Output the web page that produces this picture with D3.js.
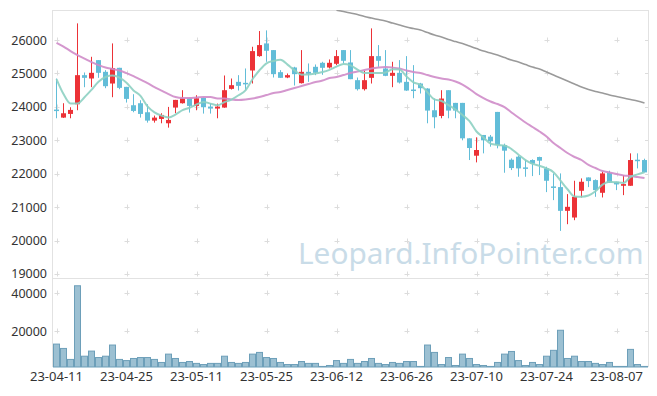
<!DOCTYPE html>
<html>
<head>
<meta charset="utf-8">
<script src="https://cdn.jsdelivr.net/npm/d3@7/dist/d3.min.js"></script>
<style>
  html, body { margin: 0; padding: 0; background: #ffffff; }
  svg { display: block; }
  text { font-family: "Noto Sans", "DejaVu Sans", sans-serif; }
</style>
</head>
<body>
<svg id="chart" width="657" height="396"></svg>
<script>
// ---------------- data ----------------
const dates = ["23-04-11","23-04-12","23-04-13","23-04-14","23-04-17","23-04-18","23-04-19","23-04-20","23-04-21","23-04-24",
  "23-04-25","23-04-26","23-04-27","23-04-28","23-05-02","23-05-03","23-05-04","23-05-08","23-05-09","23-05-10",
  "23-05-11","23-05-12","23-05-15","23-05-16","23-05-17","23-05-18","23-05-19","23-05-22","23-05-23","23-05-24",
  "23-05-25","23-05-26","23-05-30","23-05-31","23-06-01","23-06-02","23-06-05","23-06-07","23-06-08","23-06-09",
  "23-06-12","23-06-13","23-06-14","23-06-15","23-06-16","23-06-19","23-06-20","23-06-21","23-06-22","23-06-23",
  "23-06-26","23-06-27","23-06-28","23-06-29","23-06-30","23-07-03","23-07-04","23-07-05","23-07-06","23-07-07",
  "23-07-10","23-07-11","23-07-12","23-07-13","23-07-14","23-07-17","23-07-18","23-07-19","23-07-20","23-07-21",
  "23-07-24","23-07-25","23-07-26","23-07-27","23-07-28","23-07-31","23-08-01","23-08-02","23-08-03","23-08-04",
  "23-08-07","23-08-08","23-08-09","23-08-10","23-08-11"];

const openP = [23920,23680,23790,24080,24950,24850,25400,25050,24700,25170,
  24600,24050,24110,23840,23590,23640,23510,23980,24110,24260,
  24030,24270,24010,23950,23980,24540,24750,24720,25090,25520,
  25900,25700,25040,24880,25180,24710,25050,25200,25320,25180,
  25290,25700,25330,24800,24530,24870,25520,25150,24930,25020,
  24750,24520,24700,24550,23900,23730,24500,24120,24120,23060,
  22540,23160,23110,23850,22860,22420,22510,22190,22410,22500,
  22160,21620,21600,20890,20690,21490,21890,21810,21430,22030,
  21760,21640,21640,22420,22410];
const highP = [24850,24110,23990,26500,25030,25500,25400,25100,25900,25170,
  24600,24380,24200,24080,23740,23810,24000,24210,24500,24280,
  24350,24280,24110,24100,24940,24850,24950,25150,25800,26270,
  26290,25700,25100,25000,25200,25700,25300,25270,25350,25420,
  25700,25700,25700,24880,25080,26350,25850,25700,25350,25400,
  25520,25250,24720,24560,24250,24500,24500,24120,24120,23060,
  23090,23160,23160,23850,22900,22460,22540,22410,22430,22510,
  22210,22010,22010,21390,21790,21860,21890,21830,22060,22090,
  21760,21960,22610,22610,22450];
const lowP = [23660,23670,23660,23900,24590,24590,24870,24560,24290,24530,
  24130,23840,23680,23530,23530,23510,23380,23810,24100,23830,
  23900,23800,23800,23660,23975,24520,24490,24500,24700,25500,
  25350,24880,24870,24860,24640,24700,24750,24950,24960,25150,
  25250,25300,24830,24490,24490,24700,25200,24920,24590,24700,
  24480,24260,24400,23510,23360,23660,23660,23660,23000,22410,
  22340,22610,22810,22760,22030,22110,21910,21910,21930,21960,
  21450,21210,20290,20490,20610,21290,21600,21310,21290,21730,
  21510,21360,21640,22160,22040];
const closeP = [23890,23810,23910,24950,24870,25020,25020,24620,25160,24570,
  24240,23880,23790,23590,23680,23760,23610,24210,24260,24030,
  24260,23990,23950,24010,24500,24650,24630,24690,25670,25850,
  25680,24980,24870,24950,24980,25050,24990,25020,25170,25320,
  25520,25380,24830,24530,24800,25520,25380,24930,25020,24730,
  24490,24500,24560,23890,23690,24250,23890,23890,23060,22770,
  22710,23000,22970,22860,22690,22170,22160,22160,22300,22390,
  21790,21600,20890,21010,21310,21760,21780,21510,22010,21730,
  21680,21690,22410,22400,22040];

const volume = [13100,10800,5000,43900,6700,9400,6000,6700,12600,5000,
  4400,5500,6000,6000,5000,3400,7800,5500,3400,3900,
  2900,2300,2900,2900,6700,3400,2900,3400,7800,8700,
  6000,5500,3400,2300,2300,3900,2900,2900,1300,1800,
  4400,2900,5000,2900,3900,5500,2900,2300,3400,2900,
  3900,3900,1300,12600,8700,2300,6000,1800,7800,5500,
  2300,1800,1300,3400,7800,9200,4400,1800,3400,2300,
  6700,9800,20400,5500,6700,3900,3900,2900,2300,3400,
  1300,1300,10300,2300,1300];

// moving averages (null = not drawn)
const ma5 = [24833,24385,24101,24101,24288,24512,24754,24896,24938,24878,
  24722,24494,24328,24014,23836,23740,23686,23770,23904,23974,
  24074,24150,24098,24048,24142,24220,24348,24496,24828,25098,
  25304,25374,25410,25266,25092,24966,24968,24998,25042,25110,
  25204,25282,25244,25116,25012,25012,25012,25032,25130,25116,
  24910,24734,24660,24434,24226,24178,24056,23922,23756,23572,
  23264,23086,22902,22862,22846,22738,22570,22408,22296,22236,
  22160,22048,21794,21536,21320,21314,21350,21474,21674,21758,
  21742,21724,21904,21982,22044];
const ma20 = [25919,25806,25671,25551,25447,25342,25252,25177,25133,25088,
  25013,24923,24818,24714,24594,24490,24385,24295,24265,24265,
  24280,24295,24295,24250,24250,24220,24205,24220,24250,24295,
  24355,24415,24445,24505,24564,24624,24684,24744,24789,24863,
  24893,24953,25013,25058,25103,25148,25177,25192,25177,25148,
  25088,25043,25013,24953,24893,24849,24819,24759,24669,24535,
  24385,24265,24161,24086,23996,23832,23683,23533,23399,23264,
  23115,22920,22770,22620,22501,22411,22262,22172,22082,22037,
  21992,21947,21932,21902,21872];
const ma60 = [null,null,null,null,null,null,null,null,null,null,
  null,null,null,null,null,null,null,null,null,null,
  null,null,null,null,null,null,null,null,null,null,
  null,null,null,null,null,null,null,null,null,null,
  26897,26853,26808,26763,26703,26658,26613,26568,26508,26449,
  26389,26344,26299,26224,26150,26090,26015,25955,25895,25821,
  25746,25671,25611,25552,25477,25402,25342,25267,25192,25133,
  25043,24953,24863,24774,24684,24594,24519,24459,24415,24355,
  24310,24265,24220,24175,24115];

const priceTicks = [19000,20000,21000,22000,23000,24000,25000,26000];
const volumeTicks = [20000,40000];
const dateTickIndex = [0,10,20,30,40,50,60,70,80];

// ---------------- layout ----------------
const svg = d3.select("#chart");
const L = 53, R = 648, T = 10, MID = 278, B = 367;

const x = d3.scaleBand().domain(d3.range(dates.length)).range([L, R]).paddingInner(0).paddingOuter(0);
const cx = i => x(i) + x.bandwidth() / 2;
const y = d3.scaleLinear().domain([18880, 26900]).range([MID, T]);
const yv = d3.scaleLinear().domain([1000, 48000]).range([B, MID]);

const gridCol = "#dcdcdc";

// clip for upper panel
svg.append("defs").append("clipPath").attr("id", "clipTop")
  .append("rect").attr("x", L).attr("y", T).attr("width", R - L).attr("height", MID - T);

// watermark
svg.append("text")
  .attr("x", 298).attr("y", 264)
  .attr("font-size", 29.8)
  .attr("fill", "#c9dce8")
  .text("Leopard.InfoPointer.com");

// frame
const frame = svg.append("g").attr("stroke", "#e2e2e2").attr("stroke-width", 1).attr("fill", "none");
frame.append("line").attr("x1", L).attr("x2", R).attr("y1", T + 0.5).attr("y2", T + 0.5);
frame.append("line").attr("x1", L).attr("x2", R).attr("y1", MID + 0.5).attr("y2", MID + 0.5);
frame.append("line").attr("x1", L - 0.5).attr("x2", L - 0.5).attr("y1", T).attr("y2", B);
frame.append("line").attr("x1", R + 0.5).attr("x2", R + 0.5).attr("y1", T).attr("y2", B);

// grid crosses
const crosses = svg.append("g").attr("stroke", gridCol).attr("stroke-width", 1);
function cross(px, py) {
  crosses.append("line").attr("x1", px - 2.5).attr("x2", px + 2.5).attr("y1", py + 0.5).attr("y2", py + 0.5);
  crosses.append("line").attr("x1", px + 0.5).attr("x2", px + 0.5).attr("y1", py - 2.5).attr("y2", py + 2.5);
}
dateTickIndex.forEach(i => {
  priceTicks.forEach(v => cross(Math.round(cx(i)), Math.round(y(v))));
  volumeTicks.forEach(v => cross(Math.round(cx(i)), Math.round(yv(v))));
});
priceTicks.forEach(v => crosses.append("line").attr("x1", R - 3).attr("x2", R).attr("y1", Math.round(y(v)) + 0.5).attr("y2", Math.round(y(v)) + 0.5));
volumeTicks.forEach(v => crosses.append("line").attr("x1", R - 3).attr("x2", R).attr("y1", Math.round(yv(v)) + 0.5).attr("y2", Math.round(yv(v)) + 0.5));

// axes (labels only)
const yAxis = d3.axisLeft(y).tickValues(priceTicks).tickSize(0).tickPadding(6).tickFormat(d3.format("d"));
const ga = svg.append("g").attr("transform", `translate(${L},0)`).call(yAxis);
const yvAxis = d3.axisLeft(yv).tickValues(volumeTicks).tickSize(0).tickPadding(6).tickFormat(d3.format("d"));
const gv = svg.append("g").attr("transform", `translate(${L},0)`).call(yvAxis);
const xAxis = d3.axisBottom(x).tickValues(dateTickIndex).tickSize(0).tickPadding(5).tickFormat(i => dates[i]);
const gx = svg.append("g").attr("transform", `translate(0,${B})`).call(xAxis);
[ga, gv, gx].forEach(g => {
  g.select(".domain").remove();
  g.selectAll("text").attr("font-size", 12.5).attr("fill", "#333").attr("font-family", "'Noto Sans', sans-serif");
});
gx.selectAll("text").attr("font-size", 13);

// volume bars
svg.append("g").selectAll("rect").data(volume).join("rect")
  .attr("x", (d, i) => x(i) + 0.5)
  .attr("width", x.bandwidth() - 1)
  .attr("y", d => yv(d))
  .attr("height", d => B - yv(d))
  .attr("fill", "#9cc0d2")
  .attr("stroke", "#6d9fb9")
  .attr("stroke-width", 1);

// candles
const up = "#ec3237", down = "#62bdd8";
const candles = svg.append("g").attr("clip-path", "url(#clipTop)")
  .selectAll("g").data(d3.range(dates.length)).join("g");
candles.append("line")
  .attr("x1", i => Math.round(cx(i)) + 0.5 - 1).attr("x2", i => Math.round(cx(i)) + 0.5 - 1)
  .attr("y1", i => y(highP[i])).attr("y2", i => y(lowP[i]))
  .attr("stroke", i => closeP[i] > openP[i] ? up : down).attr("stroke-width", 1);
candles.append("rect")
  .attr("x", i => x(i) + 1)
  .attr("width", x.bandwidth() - 2)
  .attr("y", i => y(Math.max(openP[i], closeP[i])))
  .attr("height", i => Math.max(1.5, Math.abs(y(openP[i]) - y(closeP[i]))))
  .attr("fill", i => closeP[i] > openP[i] ? up : down);

// moving average lines
const lineOf = arr => d3.line()
  .defined(i => arr[i] !== null)
  .x(i => cx(i)).y(i => y(arr[i]))
  .curve(d3.curveMonotoneX)(d3.range(arr.length));
const lines = svg.append("g").attr("clip-path", "url(#clipTop)").attr("fill", "none");
lines.append("path").attr("d", lineOf(ma60)).attr("stroke", "#9a9a9a").attr("stroke-width", 1.6);
lines.append("path").attr("d", lineOf(ma20)).attr("stroke", "#cf8cc9").attr("stroke-width", 2).attr("stroke-opacity", 0.9);
lines.append("path").attr("d", lineOf(ma5)).attr("stroke", "#8dd0c2").attr("stroke-width", 2).attr("stroke-opacity", 0.9);
</script>
</body>
</html>
